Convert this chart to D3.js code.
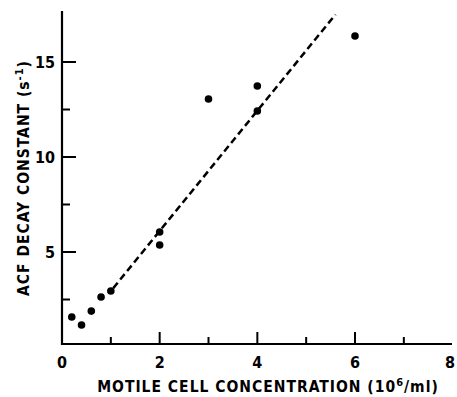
<!DOCTYPE html>
<html>
<head>
<meta charset="utf-8">
<script src="https://cdn.jsdelivr.net/npm/d3@7"></script>
<style>
  body { margin: 0; background: #fff; }
  text { font-family: "DejaVu Sans Condensed", "DejaVu Sans", sans-serif; font-weight: bold; fill: #000; }
</style>
</head>
<body>
<div id="chart"></div>
<script>
// measured points: motile cell concentration (10^6/ml) vs ACF decay constant (s^-1)
var concentration = [0.2, 0.4, 0.6, 0.8, 1.0, 2, 2, 3, 4, 4, 6];
var decay = [1.58, 1.16, 1.89, 2.63, 2.95, 6.05, 5.37, 13.05, 13.74, 12.42, 16.37];

// fitted dashed line end points
var fitX = [1.05, 5.6];
var fitY = [3.1, 17.5];

var xMajor = [0, 2, 4, 6, 8];
var xMinor = [1, 3, 5, 7];
var yMajor = [5, 10, 15];
var yMinor = [2.5, 7.5, 12.5];

var width = 457, height = 397;

var svg = d3.select("#chart")
	.append("svg")
	.attr("width", width)
	.attr("height", height);

var x = d3.scaleLinear()
	.domain([0, 6])
	.range([62, 355]);

var y = d3.scaleLinear()
	.domain([5, 15])
	.range([252, 62]);

var yBottom = 344, yTop = 11, xRight = 452;

// axes lines
svg.append("line")
	.attr("x1", x(0)).attr("x2", x(0))
	.attr("y1", yTop).attr("y2", yBottom + 1)
	.attr("stroke", "#000").attr("stroke-width", 2.2);

svg.append("line")
	.attr("x1", x(0) - 1).attr("x2", xRight)
	.attr("y1", yBottom).attr("y2", yBottom)
	.attr("stroke", "#000").attr("stroke-width", 2.2);

// ticks point inward
svg.selectAll(".xmaj")
	.data(xMajor.filter(function(d){ return d > 0 && d < 8; }))
	.enter().append("line")
	.attr("x1", function(d){ return x(d); }).attr("x2", function(d){ return x(d); })
	.attr("y1", yBottom).attr("y2", yBottom - 12)
	.attr("stroke", "#000").attr("stroke-width", 2);

svg.selectAll(".xmin")
	.data(xMinor)
	.enter().append("line")
	.attr("x1", function(d){ return x(d); }).attr("x2", function(d){ return x(d); })
	.attr("y1", yBottom).attr("y2", yBottom - 7)
	.attr("stroke", "#000").attr("stroke-width", 2);

svg.selectAll(".ymaj")
	.data(yMajor)
	.enter().append("line")
	.attr("x1", x(0)).attr("x2", x(0) + 14)
	.attr("y1", function(d){ return y(d); }).attr("y2", function(d){ return y(d); })
	.attr("stroke", "#000").attr("stroke-width", 2);

svg.selectAll(".ymin")
	.data(yMinor)
	.enter().append("line")
	.attr("x1", x(0)).attr("x2", x(0) + 8)
	.attr("y1", function(d){ return y(d); }).attr("y2", function(d){ return y(d); })
	.attr("stroke", "#000").attr("stroke-width", 2);

// tick labels
svg.selectAll(".xlab")
	.data(xMajor)
	.enter().append("text")
	.attr("x", function(d){ return Math.min(x(d), 450); })
	.attr("y", 368)
	.attr("text-anchor", "middle")
	.attr("font-size", 16)
	.text(function(d){ return d; });

svg.selectAll(".ylab")
	.data(yMajor)
	.enter().append("text")
	.attr("x", 55)
	.attr("y", function(d){ return y(d) + 6; })
	.attr("text-anchor", "end")
	.attr("font-size", 16)
	.text(function(d){ return d; });

// axis titles
var xt = svg.append("text")
	.attr("x", 268)
	.attr("y", 392)
	.attr("text-anchor", "middle")
	.attr("font-size", 15.5)
	.attr("letter-spacing", 1);
xt.append("tspan").text("MOTILE CELL CONCENTRATION (10");
xt.append("tspan").attr("dy", -6).attr("font-size", 11).text("6");
xt.append("tspan").attr("dy", 6).text("/ml)");

var yt = svg.append("text")
	.attr("transform", "translate(29,178) rotate(-90)")
	.attr("text-anchor", "middle")
	.attr("font-size", 15.5)
	.attr("letter-spacing", 1);
yt.append("tspan").text("ACF DECAY CONSTANT (s");
yt.append("tspan").attr("dy", -6).attr("font-size", 11).text("-1");
yt.append("tspan").attr("dy", 6).text(")");

// dashed fit line
svg.append("line")
	.attr("x1", x(fitX[0])).attr("y1", y(fitY[0]))
	.attr("x2", x(fitX[1])).attr("y2", y(fitY[1]))
	.attr("stroke", "#000")
	.attr("stroke-width", 2.5)
	.attr("stroke-dasharray", "7,4");

// points
svg.selectAll(".pt")
	.data(concentration)
	.enter().append("circle")
	.attr("cx", function(d){ return x(d); })
	.attr("cy", function(d, i){ return y(decay[i]); })
	.attr("r", 3.8)
	.attr("fill", "#000");
</script>
</body>
</html>
